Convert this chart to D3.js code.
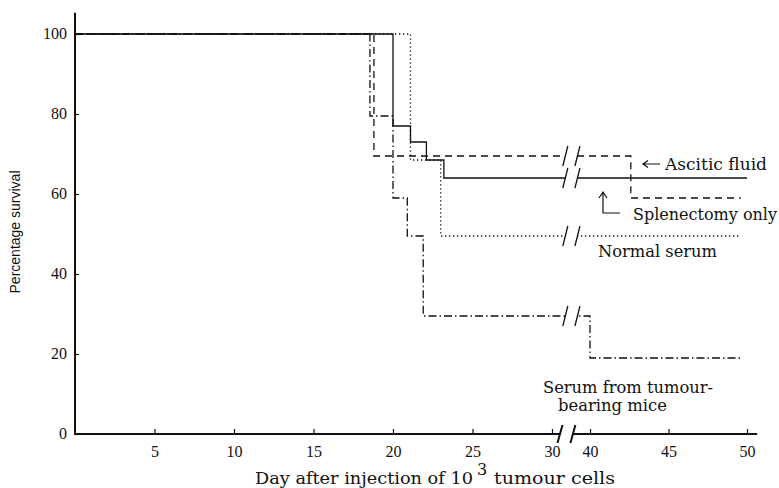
<!DOCTYPE html>
<html><head><meta charset="utf-8">
<script src="https://cdn.jsdelivr.net/npm/d3@7"></script>
<style>
html,body{margin:0;padding:0;background:#fff;}
svg{display:block;}
</style></head><body>
<svg id="chart" width="779" height="488"></svg>
<script>
// Survival (%) by day, one step series per treatment group
const splenectomyDays   = [0, 20, 21.1, 22.1, 23.2, 50];
const splenectomyValues = [100, 77, 73, 68.5, 64, 64];
const asciticDays       = [0, 18.8, 42.6, 49.6];
const asciticValues     = [100, 69.5, 59, 59];
const normalSerumDays   = [0, 21.1, 23, 49.6];
const normalSerumValues = [100, 68.5, 49.5, 49.5];
const tumourSerumDays   = [0, 18.55, 20, 20.9, 21.9, 40, 49.6];
const tumourSerumValues = [100, 79.5, 59, 49.5, 29.5, 19, 19];

const xTickValues = [5, 10, 15, 20, 25, 30, 40, 45, 50];
const yTickValues = [0, 20, 40, 60, 80, 100];

// Broken day axis: days 30..40 are squeezed into a short gap
const axisBreak  = [32.1, 35.5];
const curveBreak = [33.5, 36.7];

const svg = d3.select("#chart");
const x = d3.scaleLinear().domain([0, 30, 40, 50]).range([75, 552, 590, 747]);
const y = d3.scaleLinear().domain([0, 100]).range([434, 34]);

const tickFont = "'Liberation Serif', serif";
const textFont = "'DejaVu Serif', serif";

// ---- axes ----
const xAxis = d3.axisBottom(x).tickValues(xTickValues).tickSizeInner(-5).tickSizeOuter(0).tickPadding(12);
const gx = svg.append("g").attr("transform", `translate(0,${y(0)})`).call(xAxis);
gx.select(".domain").remove();
gx.selectAll(".tick line").attr("stroke", "#111").attr("stroke-width", 1.2);
gx.selectAll(".tick text").attr("font-family", tickFont).attr("font-size", 16).attr("fill", "#111");

const yAxis = d3.axisLeft(y).tickValues(yTickValues).tickSizeInner(-4).tickSizeOuter(0).tickPadding(8);
const gy = svg.append("g").attr("transform", `translate(${x(0)},0)`).call(yAxis);
gy.select(".domain").remove();
gy.selectAll(".tick line").attr("stroke", "#111").attr("stroke-width", 1.2);
gy.selectAll(".tick text").attr("font-family", tickFont).attr("font-size", 16).attr("fill", "#111").attr("dy", "0.27em");

// axis lines
svg.append("line").attr("x1", x(0)).attr("x2", x(0)).attr("y1", y(0) + 1).attr("y2", y(105.3))
  .attr("stroke", "#111").attr("stroke-width", 2);
svg.append("line").attr("x1", x(0)).attr("x2", x(axisBreak[0])).attr("y1", y(0)).attr("y2", y(0))
  .attr("stroke", "#111").attr("stroke-width", 2);
svg.append("line").attr("x1", x(axisBreak[1])).attr("x2", x(50.65)).attr("y1", y(0)).attr("y2", y(0))
  .attr("stroke", "#111").attr("stroke-width", 2);

function slash(g, cx, cy, h, w) {
  g.append("line").attr("x1", cx - 2.5).attr("y1", cy + h).attr("x2", cx + 2.5).attr("y2", cy - h)
    .attr("stroke", "#111").attr("stroke-width", w);
}
axisBreak.forEach(d => slash(svg, x(d), y(0), 9, 2));

// ---- survival curves ----
const series = [
  { name: "splenectomy", days: splenectomyDays, values: splenectomyValues, dash: null },
  { name: "ascitic", days: asciticDays, values: asciticValues, dash: "7,5" },
  { name: "normal", days: normalSerumDays, values: normalSerumValues, dash: "1.3,2.7" },
  { name: "tumour", days: tumourSerumDays, values: tumourSerumValues, dash: "8,3,1.5,3" }
];

const clip = svg.append("defs").append("clipPath").attr("id", "gap");
clip.append("rect").attr("x", 0).attr("y", 0).attr("width", x(curveBreak[0])).attr("height", 488);
clip.append("rect").attr("x", x(curveBreak[1])).attr("y", 0).attr("width", 779 - x(curveBreak[1])).attr("height", 488);

const line = d3.line().x(d => x(d[0])).y(d => y(d[1])).curve(d3.curveStepAfter);
const curves = svg.append("g").attr("clip-path", "url(#gap)");
series.forEach(s => {
  const pts = s.days.map((d, i) => [d, s.values[i]]);
  curves.append("path").attr("d", line(pts)).attr("fill", "none")
    .attr("stroke", "#111").attr("stroke-width", 1.3)
    .attr("stroke-dasharray", s.dash);
  // level of the curve where it crosses the break
  const idx = d3.bisectRight(s.days, curveBreak[0]) - 1;
  const level = s.values[idx];
  curveBreak.forEach(d => slash(svg, x(d), y(level), 10, 1.3));
});

// ---- annotations ----
const ann = svg.append("g").attr("font-family", textFont).attr("font-size", 16).attr("fill", "#111");
function label(g, tx, ty, str, len) {
  return g.append("text").attr("x", tx).attr("y", ty)
    .attr("textLength", len).attr("lengthAdjust", "spacingAndGlyphs").text(str);
}
label(ann, 665, 170, "Ascitic fluid", 102);
label(ann, 633, 220, "Splenectomy only", 144);
label(ann, 598, 257, "Normal serum", 119);
label(ann, 543, 393, "Serum from tumour-", 170);
label(ann, 558, 411, "bearing mice", 109);

// arrows
const ar = svg.append("g").attr("stroke", "#111").attr("stroke-width", 1.2).attr("fill", "none");
ar.append("path").attr("d", "M660,164 H643 M648,160.5 L643,164 L648,167.5");
ar.append("path").attr("d", "M620,213 H603 V192 M599,198 L603,192 L607,198");

// axis titles
const xt = svg.append("g").attr("font-family", textFont).attr("font-size", 16).attr("fill", "#111");
label(xt, 255, 484, "Day after injection of 10", 218);
xt.append("text").attr("x", 477).attr("y", 475).text("3");
label(xt, 494, 484, "tumour cells", 121);

svg.append("text").attr("font-family", "'Liberation Sans', Arial, sans-serif").attr("font-size", 14)
  .attr("fill", "#111").attr("text-anchor", "middle")
  .attr("transform", "translate(20,232) rotate(-90)")
  .attr("textLength", 123).attr("lengthAdjust", "spacingAndGlyphs").text("Percentage survival");
</script>
</body></html>
